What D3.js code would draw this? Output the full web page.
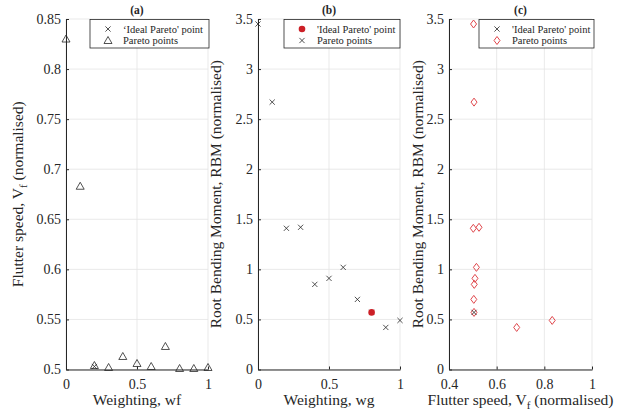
<!DOCTYPE html>
<html>
<head>
<meta charset="utf-8">
<script src="https://d3js.org/d3.v7.min.js"></script>
<style>
  body { margin: 0; background: #fff; }
  svg text { font-family: "Liberation Serif", "DejaVu Serif", serif !important; fill: #262626; }
</style>
</head>
<body>
<div id="chart"></div>
<script>
// panel (a): weighting wf vs flutter speed
var wfWeights = [0, 0.1, 0.2, 0.3, 0.4, 0.5, 0.6, 0.7, 0.8, 0.9, 1.0];
var wfFlutter = [0.83, 0.683, 0.504, 0.502, 0.513, 0.506, 0.503, 0.523, 0.501, 0.501, 0.502];
var wfIdeal = [{ x: 0.2, y: 0.503 }];

// panel (b): weighting wg vs RBM
var wgWeights = [0, 0.1, 0.2, 0.3, 0.4, 0.5, 0.6, 0.7, 0.8, 0.9, 1.0];
var wgRBM = [3.45, 2.67, 1.41, 1.42, 0.85, 0.91, 1.02, 0.70, 0.57, 0.42, 0.49];
var wgIdeal = [{ x: 0.8, y: 0.57 }];

// panel (c): flutter speed vs RBM
var cFlutter = [0.503, 0.505, 0.502, 0.526, 0.515, 0.509, 0.506, 0.504, 0.505, 0.684, 0.833];
var cRBM = [3.45, 2.67, 1.41, 1.42, 1.02, 0.91, 0.85, 0.70, 0.57, 0.42, 0.49];
var cIdeal = [{ x: 0.505, y: 0.57 }];

var xTicksAB = [0, 0.5, 1];
var xTicksC = [0.4, 0.6, 0.8, 1];
var yTicksA = [0.5, 0.55, 0.6, 0.65, 0.7, 0.75, 0.8, 0.85];
var yTicksBC = [0, 0.5, 1, 1.5, 2, 2.5, 3, 3.5];

var width = 630, height = 414;
var plotTop = 19, plotBottom = 369.5;
var axisColor = "#262626", gridColor = "#e3e3e3";
var serif = '"Liberation Serif", "DejaVu Serif", serif';

var svg = d3.select("#chart").append("svg")
  .attr("width", width).attr("height", height)
  .style("font-family", serif);

function zip(xs, ys) { return xs.map((x, i) => ({ x: x, y: ys[i] })); }

function panel(opt) {
  var x = d3.scaleLinear().domain(opt.xDomain).range([opt.left, opt.right]);
  var y = d3.scaleLinear().domain(opt.yDomain).range([plotBottom, plotTop]);
  var g = svg.append("g");

  // grid
  g.selectAll(".gx").data(opt.xTicks).enter().append("line")
    .attr("x1", d => x(d)).attr("x2", d => x(d)).attr("y1", plotTop).attr("y2", plotBottom)
    .attr("stroke", gridColor).attr("stroke-width", 0.8);
  g.selectAll(".gy").data(opt.yTicks).enter().append("line")
    .attr("y1", d => y(d)).attr("y2", d => y(d)).attr("x1", opt.left).attr("x2", opt.right)
    .attr("stroke", gridColor).attr("stroke-width", 0.8);

  // axes, ticks inward
  var xa = g.append("g").attr("transform", "translate(0," + plotBottom + ")")
    .call(d3.axisBottom(x).tickValues(opt.xTicks).tickSizeInner(-3).tickSizeOuter(0)
      .tickPadding(7).tickFormat(d3.format("~g")));
  var ya = g.append("g").attr("transform", "translate(" + opt.left + ",0)")
    .call(d3.axisLeft(y).tickValues(opt.yTicks).tickSizeInner(-3).tickSizeOuter(0)
      .tickPadding(5).tickFormat(d3.format("~g")));
  [xa, ya].forEach(a => {
    a.attr("font-family", null).attr("font-size", 14);
    a.select(".domain").attr("stroke", axisColor);
    a.selectAll(".tick line").attr("stroke", axisColor);
    a.selectAll(".tick text").attr("fill", axisColor);
  });
  xa.selectAll(".tick text").attr("dy", "0.9em");

  // title
  g.append("text").attr("x", (opt.left + opt.right) / 2).attr("y", 14)
    .attr("text-anchor", "middle").attr("font-size", 11.5).attr("font-weight", "bold")
    .text(opt.title);

  // x label
  var xl = g.append("text").attr("x", (opt.left + opt.right) / 2).attr("y", 405)
    .attr("text-anchor", "middle").attr("font-size", 15.5);
  opt.xLabel(xl);

  // y label
  var yl = g.append("text")
    .attr("transform", "translate(" + opt.yLabelX + "," + ((plotTop + plotBottom) / 2) + ") rotate(-90)")
    .attr("text-anchor", "middle").attr("font-size", 15.5);
  opt.yLabel(yl);

  var markers = g.append("g");
  opt.draw(markers, x, y);

  // legend
  var lg = g.append("g");
  lg.append("rect").attr("x", opt.legX).attr("y", 19.5).attr("width", opt.legW).attr("height", 28.5)
    .attr("fill", "#fff").attr("stroke", axisColor).attr("stroke-width", 0.8);
  opt.legend.forEach((item, i) => {
    var cy = 29 + i * 11.5;
    item.marker(lg, opt.legX + 18, cy);
    lg.append("text").attr("x", opt.legX + 33).attr("y", cy + 3.8)
      .attr("font-size", 10.5).text(item.label);
  });
}

function cross(sel, cx, cy) {
  var s = 2.6;
  sel.append("path")
    .attr("d", `M${cx - s},${cy - s}L${cx + s},${cy + s}M${cx - s},${cy + s}L${cx + s},${cy - s}`)
    .attr("stroke", "#262626").attr("stroke-width", 0.8).attr("fill", "none");
}
function tri(sel, cx, cy) {
  sel.append("path")
    .attr("d", `M${cx},${cy - 4}L${cx + 4},${cy + 3}L${cx - 4},${cy + 3}Z`)
    .attr("stroke", "#262626").attr("stroke-width", 0.8).attr("fill", "none");
}
function diamond(sel, cx, cy) {
  sel.append("path")
    .attr("d", `M${cx},${cy - 4}L${cx + 3},${cy}L${cx},${cy + 4}L${cx - 3},${cy}Z`)
    .attr("stroke", "#e0474c").attr("stroke-width", 1).attr("fill", "none");
}
function dot(sel, cx, cy) {
  sel.append("circle").attr("cx", cx).attr("cy", cy).attr("r", 3.3).attr("fill", "#cc1f26");
}

function withSub(main, sub, rest) {
  return function (t) {
    t.append("tspan").text(main);
    t.append("tspan").attr("font-size", 11).attr("dy", 4).text(sub);
    t.append("tspan").attr("dy", -4).text(rest);
  };
}

panel({
  left: 66, right: 208, xDomain: [0, 1], yDomain: [0.5, 0.85],
  xTicks: xTicksAB, yTicks: yTicksA, title: "(a)", yLabelX: 23,
  xLabel: t => t.text("Weighting, wf"),
  yLabel: withSub("Flutter speed, V", "f", " (normalised)"),
  legX: 90, legW: 119,
  legend: [{ marker: cross, label: "\u2018Ideal Pareto' point" }, { marker: tri, label: "Pareto points" }],
  draw: function (m, x, y) {
    zip(wfWeights, wfFlutter).forEach(d => tri(m, x(d.x), y(d.y)));
    wfIdeal.forEach(d => cross(m, x(d.x), y(d.y)));
  }
});

panel({
  left: 258, right: 400, xDomain: [0, 1], yDomain: [0, 3.5],
  xTicks: xTicksAB, yTicks: yTicksBC, title: "(b)", yLabelX: 221,
  xLabel: t => t.text("Weighting, wg"),
  yLabel: t => t.text("Root Bending Moment, RBM (normalised)"),
  legX: 284, legW: 116,
  legend: [{ marker: dot, label: "'Ideal Pareto' point" }, { marker: cross, label: "Pareto points" }],
  draw: function (m, x, y) {
    zip(wgWeights, wgRBM).forEach(d => cross(m, x(d.x), y(d.y)));
    wgIdeal.forEach(d => dot(m, x(d.x), y(d.y)));
  }
});

panel({
  left: 449, right: 592, xDomain: [0.4, 1], yDomain: [0, 3.5],
  xTicks: xTicksC, yTicks: yTicksBC, title: "(c)", yLabelX: 423,
  xLabel: withSub("Flutter speed, V", "f", " (normalised)"),
  yLabel: t => t.text("Root Bending Moment, RBM (normalised)"),
  legX: 479, legW: 115,
  legend: [{ marker: cross, label: "'Ideal Pareto' point" }, { marker: diamond, label: "Pareto points" }],
  draw: function (m, x, y) {
    zip(cFlutter, cRBM).forEach(d => diamond(m, x(d.x), y(d.y)));
    cIdeal.forEach(d => cross(m, x(d.x), y(d.y)));
  }
});
</script>
</body>
</html>
